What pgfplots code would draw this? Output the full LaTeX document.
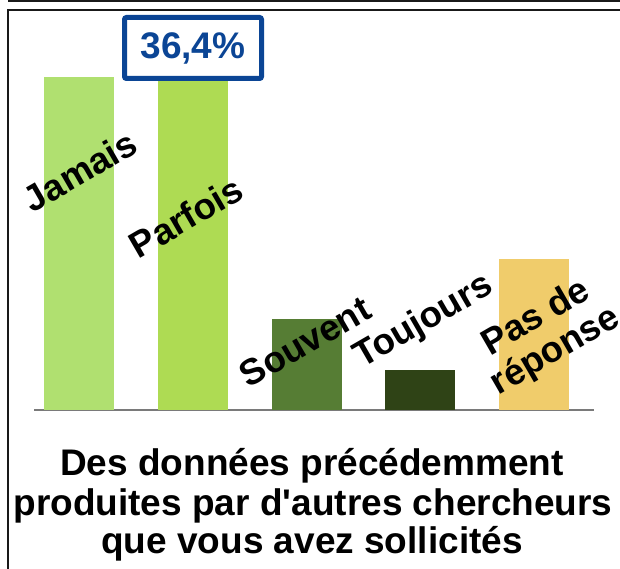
\documentclass[border=0pt]{standalone}
\usepackage{pgfplots}
\pgfplotsset{compat=1.18}
\usepackage{fontspec}
\setmainfont{Liberation Sans}
\definecolor{cJamais}{HTML}{B0E070}
\definecolor{cParfois}{HTML}{AEDB53}
\definecolor{cSouvent}{HTML}{567D34}
\definecolor{cToujours}{HTML}{2F4316}
\definecolor{cPas}{HTML}{F0CC6B}
\definecolor{cBlue}{HTML}{0B4595}
\definecolor{cAxis}{HTML}{7A7A7A}
\begin{document}
\begin{tikzpicture}[x=1pt,y=1pt]
\path[use as bounding box] (0,0) rectangle (620,569);
% frame
\draw[line width=2pt, black!90] (8,568) -- (620,568);
\draw[line width=2pt, black!90] (620,559) -- (8,559) -- (8,0);
\begin{axis}[
  at={(34pt,159pt)}, anchor=south west,
  width=560pt, height=398.9pt, scale only axis,
  xmin=-0.395, xmax=4.526, ymin=0, ymax=40,
  hide y axis, axis x line*=bottom,
  axis line style={draw=cAxis, line width=2.5pt, -},
  xtick=\empty, ytick=\empty,
  clip=false,
]
\addplot[ybar, bar width=70pt, fill=cJamais, draw=none] coordinates {(0,33.4)};
\addplot[ybar, bar width=70pt, fill=cParfois, draw=none] coordinates {(1,36.4)};
\addplot[ybar, bar width=70pt, fill=cSouvent, draw=none] coordinates {(2,9.1)};
\addplot[ybar, bar width=70pt, fill=cToujours, draw=none] coordinates {(3,4.0)};
\addplot[ybar, bar width=70pt, fill=cPas, draw=none] coordinates {(4,15.1)};
\end{axis}
\tikzset{lab/.style={rotate=30, font=\fontsize{36.5}{36.5}\selectfont\bfseries, align=center, inner sep=0pt}}
\node[lab] at (80,398) {Jamais};
\node[lab] at (186,352) {Parfois};
\node[lab] at (305,227) {Souvent};
\node[lab] at (424,247) {Toujours};
\node[lab, font=\fontsize{36.5}{38}\selectfont\bfseries] at (546,234) {Pas de\\réponse};
% value box
\node[draw=cBlue, line width=5pt, fill=white, rounded corners=2pt, minimum width=137pt, minimum height=61pt, inner sep=0pt,
      text=cBlue, font=\fontsize{37}{37}\selectfont\bfseries] at (193,521) {36,4\%};
% title
\tikzset{tit/.style={anchor=base, font=\fontsize{37}{40}\selectfont\bfseries, inner sep=0pt}}
\node[tit] at (312,93) {Des données précédemment};
\node[tit] at (313,53) {produites par d\textquotesingle autres chercheurs};
\node[tit] at (312,15) {que vous avez sollicités};
\end{tikzpicture}
\end{document}
